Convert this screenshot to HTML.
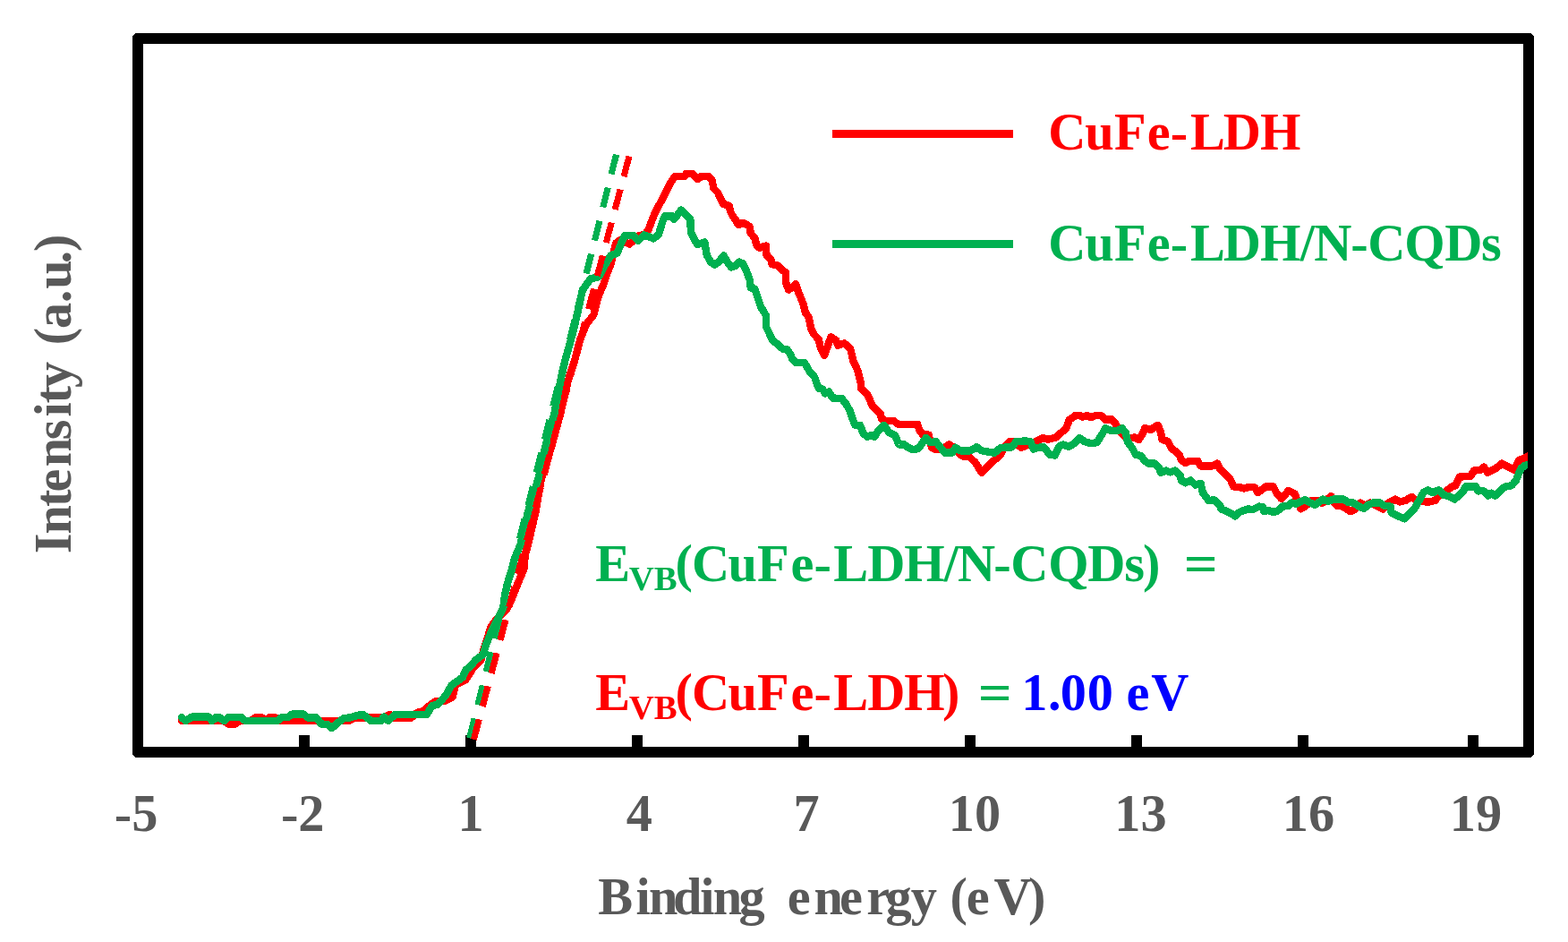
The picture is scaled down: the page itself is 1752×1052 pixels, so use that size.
<!DOCTYPE html>
<html lang="en">
<head>
<meta charset="utf-8">
<title>Valence band XPS spectra</title>
<style>
html,body{margin:0;padding:0;background:#fff;}
body{width:1752px;height:1052px;overflow:hidden;}
svg{display:block;}
</style>
</head>
<body>
<svg width="1752" height="1052" viewBox="0 0 1752 1052" font-family='"Liberation Serif", "DejaVu Serif", serif' font-weight="bold">
<defs><clipPath id="plot"><rect x="154" y="43" width="1553" height="797"/></clipPath></defs>
<rect x="0" y="0" width="1752" height="1052" fill="#fff"/>
<g shape-rendering="crispEdges">
<path fill="#000" fill-rule="evenodd" d="M151.2,37 H1710.8 L1714,40.2 V842.8 L1710.8,846 H151.2 L148,842.8 V40.2 Z M160,49 H1702 V834 H160 Z"/>
<rect x="334" y="821" width="12" height="14" fill="#000"/>
<rect x="520" y="821" width="12" height="14" fill="#000"/>
<rect x="706" y="821" width="12" height="14" fill="#000"/>
<rect x="892" y="821" width="12" height="14" fill="#000"/>
<rect x="1078" y="821" width="12" height="14" fill="#000"/>
<rect x="1264" y="821" width="12" height="14" fill="#000"/>
<rect x="1450" y="821" width="12" height="14" fill="#000"/>
<rect x="1640" y="821" width="12" height="14" fill="#000"/>
</g>
<g shape-rendering="crispEdges">
<rect x="930" y="144.7" width="202" height="9.3" fill="#ff0000"/>
<rect x="930" y="268" width="202" height="9.3" fill="#00b050"/>
</g>
<g clip-path="url(#plot)" fill="none" stroke-linejoin="round" stroke-linecap="round" shape-rendering="crispEdges">
<polyline stroke="#ff0000" stroke-width="8.4" points="203.0,805.0 250.0,805.0 256.0,809.0 262.0,809.0 268.0,805.0 280.0,805.0 286.0,801.0 292.0,801.0 297.0,805.0 301.0,801.0 307.0,801.0 312.0,805.0 330.0,805.0 350.0,805.0 380.0,805.0 390.0,805.0 397.0,801.4 428.0,801.4 436.0,798.0 441.6,802.0 458.8,802.0 466.0,796.0 473.0,794.0 480.0,788.0 486.0,783.5 497.6,782.5 505.6,778.5 509.0,765.0 520.4,759.0 528.4,746.5 537.5,737.0 540.5,725.0 543.4,717.0 548.5,700.0 556.0,690.0 566.0,680.5 572.2,668.0 577.6,654.0 586.0,634.0 586.5,620.0 590.0,608.4 598.6,570.8 604.9,534.2 615.8,500.0 626.1,462.2 634.6,425.7 642.0,402.8 648.0,380.0 654.8,362.7 663.5,351.3 666.0,340.0 669.5,328.5 674.5,317.1 678.2,305.7 682.7,294.2 686.0,280.0 688.4,271.4 693.0,268.0 703.3,272.6 713.6,263.4 720.0,262.0 723.9,258.0 731.3,239.0 734.7,232.2 742.7,217.4 749.6,203.7 754.2,197.0 764.4,197.0 766.7,194.0 773.6,194.0 779.3,200.2 783.8,197.0 791.8,197.0 795.3,200.2 797.5,210.5 802.1,215.1 807.8,227.6 814.7,229.9 816.4,236.8 818.2,240.3 822.2,246.0 825.1,251.1 830.2,248.8 837.6,252.8 838.8,260.8 843.3,265.4 845.6,274.5 848.5,276.8 855.9,274.5 856.5,284.8 861.6,290.5 862.7,295.1 868.4,296.2 874.2,301.9 878.2,304.2 878.2,315.6 881.0,323.6 885.0,321.0 889.0,317.3 892.4,327.0 895.8,335.0 897.6,340.0 899.9,349.1 903.9,354.8 906.2,367.4 910.2,374.2 914.7,378.8 917.0,389.1 921.0,397.1 928.4,376.5 934.2,380.0 936.4,385.7 943.3,383.4 950.1,389.1 953.6,403.9 958.1,413.1 961.6,426.8 962.2,433.7 969.1,440.5 974.8,453.1 983.9,462.2 985.1,467.9 990.8,470.2 998.8,470.2 1003.3,473.7 1025.0,473.7 1027.3,480.5 1030.7,485.1 1037.6,485.6 1041.0,499.9 1045.6,502.2 1052.0,502.0 1060.4,496.5 1066.0,500.0 1073.0,507.9 1077.5,510.2 1083.2,510.2 1090.1,517.0 1096.9,527.9 1104.9,519.3 1111.4,513.6 1117.1,509.0 1122.8,498.8 1128.5,493.1 1134.0,494.0 1141.1,499.9 1148.0,497.0 1157.1,493.1 1165.6,489.1 1170.8,490.8 1179.9,488.5 1191.3,478.2 1194.7,469.1 1201.6,464.0 1207.0,464.0 1209.6,465.7 1214.2,464.0 1218.7,466.2 1224.4,464.0 1230.1,464.0 1235.8,469.1 1241.6,467.9 1246.1,472.5 1249.5,479.4 1257.5,488.5 1263.2,489.6 1267.8,488.5 1272.4,490.8 1277.0,484.0 1279.2,478.2 1285.7,480.0 1293.7,474.8 1297.1,482.8 1298.3,490.8 1305.1,493.1 1308.5,500.0 1317.7,507.9 1320.0,513.7 1324.5,517.1 1329.1,514.8 1338.2,514.8 1341.6,520.5 1354.2,520.5 1359.9,517.6 1363.3,523.9 1374.7,535.3 1378.2,543.3 1386.2,544.5 1390.0,545.5 1395.3,543.9 1402.0,544.5 1405.6,550.2 1411.0,546.0 1414.7,543.3 1422.7,543.3 1426.1,550.2 1431.8,557.0 1439.8,547.9 1446.7,551.3 1449.0,558.2 1453.5,568.4 1459.0,565.0 1465.7,558.8 1471.0,558.8 1477.0,562.0 1487.4,554.2 1490.0,560.0 1494.2,565.0 1500.0,565.5 1509.1,571.3 1515.0,568.0 1519.9,561.6 1525.0,564.5 1530.8,561.6 1537.5,564.5 1545.6,568.5 1550.0,562.5 1559.3,557.6 1564.0,560.5 1570.7,558.8 1577.6,554.8 1583.3,559.9 1597.0,560.5 1603.8,558.8 1607.0,554.5 1613.0,550.8 1615.9,548.4 1621.6,543.9 1626.2,542.2 1630.8,532.5 1643.3,531.9 1646.7,525.6 1653.6,525.0 1658.2,521.6 1662.2,527.9 1667.3,525.0 1671.9,522.8 1678.1,517.6 1683.3,520.5 1691.3,524.5 1695.8,517.6 1697.0,514.2 1702.7,511.9 1707.0,509.6"/>
<polyline stroke="#00b050" stroke-width="8.4" points="203.0,801.1 207.1,805.1 214.5,800.6 233.4,800.6 236.8,805.1 241.4,801.1 245.9,801.6 250.5,805.1 255.1,801.1 269.9,801.1 273.9,805.0 309.9,805.0 315.0,801.1 321.3,801.1 326.4,797.6 339.5,797.6 343.5,801.4 353.2,801.4 359.0,808.5 365.8,809.1 370.9,813.1 377.2,807.4 384.1,802.2 391.4,801.3 401.7,798.3 406.3,798.5 414.2,804.8 425.7,804.8 429.0,800.5 433.7,804.8 441.6,798.0 477.0,797.8 482.7,788.2 489.6,786.5 498.7,775.7 504.4,765.4 517.0,756.3 520.4,748.3 525.0,744.8 531.8,736.8 539.8,731.1 542.8,720.5 548.5,706.8 555.3,693.0 562.2,679.4 563.9,665.7 566.8,652.0 571.3,638.3 574.7,624.6 581.4,608.4 590.2,570.8 601.6,534.2 609.0,500.0 619.3,462.2 626.2,425.7 631.3,402.8 637.8,380.0 642.2,362.7 647.4,339.9 650.8,323.9 659.9,311.4 669.0,309.1 677.0,294.2 682.7,285.1 689.6,282.8 694.2,271.4 698.2,263.0 707.3,263.0 713.0,268.7 719.9,262.4 724.5,264.2 730.2,266.4 735.9,261.9 740.5,247.0 742.7,241.3 751.0,241.3 753.0,244.7 757.0,240.0 761.0,234.5 765.6,239.0 771.3,244.7 772.0,259.7 777.1,270.0 779.4,272.8 787.4,270.5 789.7,284.8 794.2,292.8 798.8,295.6 803.5,292.0 808.5,285.4 812.5,292.2 817.1,298.5 821.5,297.0 825.6,292.6 829.6,294.0 834.2,303.0 837.6,312.2 838.8,321.3 843.3,322.5 846.8,332.7 850.2,343.0 852.0,345.7 856.0,352.6 856.0,365.1 860.0,373.1 863.4,380.0 870.2,385.7 874.8,389.7 879.4,390.2 883.4,395.9 885.1,400.5 889.6,405.1 898.8,405.1 902.2,410.8 905.6,416.5 910.2,421.1 912.5,427.9 914.7,433.6 919.3,434.7 922.2,439.5 926.0,437.5 930.3,444.5 940.5,445.1 945.1,450.8 949.7,458.8 953.1,469.1 955.4,474.8 961.1,474.8 964.5,483.9 969.1,487.9 973.0,486.0 977.1,487.9 981.6,480.5 987.9,474.8 993.1,482.8 999.9,486.2 1004.5,496.5 1010.2,496.5 1014.7,499.9 1020.5,502.2 1026.0,501.0 1034.7,489.1 1039.9,494.2 1045.6,493.1 1050.1,498.8 1055.8,505.6 1063.8,505.6 1067.8,499.9 1073.0,503.3 1084.4,503.3 1091.2,499.3 1096.9,503.3 1105.7,505.0 1111.4,505.6 1118.3,499.9 1130.8,499.3 1135.4,493.1 1145.7,492.5 1151.4,493.1 1154.8,501.6 1159.4,499.9 1166.2,499.3 1173.1,507.9 1178.8,508.5 1183.3,498.8 1187.9,496.5 1193.6,498.8 1199.3,495.9 1206.2,489.1 1211.9,493.1 1218.7,495.3 1225.6,494.2 1231.3,485.1 1235.3,478.2 1241.6,481.1 1248.4,481.1 1253.5,478.2 1258.1,483.9 1259.8,493.1 1265.5,501.1 1268.9,507.9 1274.7,509.0 1279.2,514.7 1283.4,517.6 1290.3,517.6 1294.8,522.2 1297.1,527.9 1302.8,525.6 1307.4,527.4 1313.1,525.6 1318.8,530.8 1320.0,536.5 1324.5,539.3 1330.2,536.5 1335.9,541.6 1341.6,539.9 1343.9,550.2 1350.8,559.3 1356.5,558.2 1363.3,565.0 1364.5,568.4 1374.7,573.0 1380.5,576.4 1385.0,571.9 1394.2,568.4 1400.0,569.0 1406.7,565.6 1411.0,566.0 1412.4,571.3 1417.0,570.0 1422.7,571.9 1427.0,571.0 1433.0,565.6 1439.8,565.0 1443.2,561.6 1447.8,562.7 1458.1,558.2 1463.0,561.0 1469.1,563.9 1473.5,561.0 1478.3,557.6 1484.0,559.9 1489.7,557.6 1501.1,557.6 1506.8,561.0 1512.5,561.6 1518.2,565.6 1523.9,567.9 1529.5,563.5 1534.2,561.6 1542.2,561.6 1546.8,565.0 1553.6,565.6 1554.7,572.5 1562.7,576.5 1569.6,579.3 1579.9,569.0 1585.1,559.9 1590.8,549.6 1595.4,547.3 1601.1,550.2 1607.4,547.3 1613.6,553.0 1619.4,554.2 1625.1,557.6 1630.8,553.0 1635.3,548.4 1637.6,543.3 1649.0,543.3 1651.3,548.4 1657.0,547.9 1662.7,553.6 1666.2,550.7 1670.7,553.6 1676.4,548.4 1681.0,543.9 1689.0,542.2 1693.6,537.0 1697.0,529.0 1699.3,523.3 1703.8,519.9 1707.0,518.8"/>
<path d="M688.6,172.6 L522.1,834.0" stroke="#00b050" stroke-width="7.1" stroke-linecap="butt" stroke-dasharray="22.6 15.6"/>
<path d="M703.0,174.5 L527.2,834.0" stroke="#ff0000" stroke-width="7.1" stroke-linecap="butt" stroke-dasharray="23.4 14.88"/>
</g>
<text x="1171.15 1212.22 1245.00 1281.81 1307.66 1329.90 1366.67 1408.10" y="166.80" font-size="58.33" fill="#ff0000">CuFe-LDH</text>
<text x="1171.15 1212.22 1245.00 1281.81 1307.66 1329.90 1366.67 1408.10 1452.77 1468.19 1509.16 1528.15 1569.25 1614.37 1655.03" y="290.60" font-size="58.33" fill="#00b050">CuFe-LDH/N-CQDs</text>
<text x="665.30" y="648.80" font-size="58.33" fill="#00b050">E</text>
<text x="702.66 730.65" y="659.40" font-size="38.90" fill="#00b050">VB</text>
<text x="754.44 773.05 813.52 845.90 883.41 909.46 931.20 969.17 1010.30 1054.67 1070.09 1110.16 1129.15 1171.15 1215.37 1256.13 1276.92" y="648.80" font-size="58.33" fill="#00b050">(CuFe-LDH/N-CQDs)</text>
<text x="1322.69" y="648.80" font-size="58.33" fill="#00b050" textLength="38" lengthAdjust="spacingAndGlyphs">=</text>
<text x="665.30" y="792.50" font-size="58.33" fill="#ff0000">E</text>
<text x="702.66 730.65" y="803.00" font-size="38.90" fill="#ff0000">VB</text>
<text x="754.44 773.05 813.52 845.90 883.41 909.46 931.20 969.17 1010.30 1053.12" y="792.50" font-size="58.33" fill="#ff0000">(CuFe-LDH)</text>
<text x="1092.79" y="792.50" font-size="58.33" fill="#00b050" textLength="38" lengthAdjust="spacingAndGlyphs">=</text>
<text x="1141.23 1171.04 1184.78 1214.78" y="792.50" font-size="58.33" fill="#0000ff">1.00</text>
<text x="1258.61 1286.34" y="792.50" font-size="58.33" fill="#0000ff">eV</text>
<text x="668.13 710.62 724.93 752.04 782.22 796.83 825.46" y="1020.80" font-size="58.33" fill="#595959">Binding</text>
<text x="879.81 909.43 937.91 968.33 989.46 1017.83" y="1020.80" font-size="58.33" fill="#595959">energy</text>
<text x="1061.54 1079.71 1110.54 1149.02" y="1020.80" font-size="58.33" fill="#595959">(eV)</text>
<text x="152.0" y="927.9" font-size="58.33" fill="#595959" text-anchor="middle">-5</text>
<text x="338.2" y="927.9" font-size="58.33" fill="#595959" text-anchor="middle">-2</text>
<text x="526.0" y="927.9" font-size="58.33" fill="#595959" text-anchor="middle">1</text>
<text x="714.3" y="927.9" font-size="58.33" fill="#595959" text-anchor="middle">4</text>
<text x="901.0" y="927.9" font-size="58.33" fill="#595959" text-anchor="middle">7</text>
<text x="1089.0" y="927.9" font-size="58.33" fill="#595959" text-anchor="middle">10</text>
<text x="1274.4" y="927.9" font-size="58.33" fill="#595959" text-anchor="middle">13</text>
<text x="1462.0" y="927.9" font-size="58.33" fill="#595959" text-anchor="middle">16</text>
<text x="1649.0" y="927.9" font-size="58.33" fill="#595959" text-anchor="middle">19</text>
<g transform="translate(79.1,616.4) rotate(-90)">
<text x="-1.97 19.83 50.46 66.91 95.13 125.23 151.02 165.86 183.33" y="0.00" font-size="58.33" fill="#595959">Intensity</text>
<text x="231.14 249.42 278.24 293.62 321.84 335.42" y="0.00" font-size="58.33" fill="#595959">(a.u.)</text>
</g>
</svg>
</body>
</html>
